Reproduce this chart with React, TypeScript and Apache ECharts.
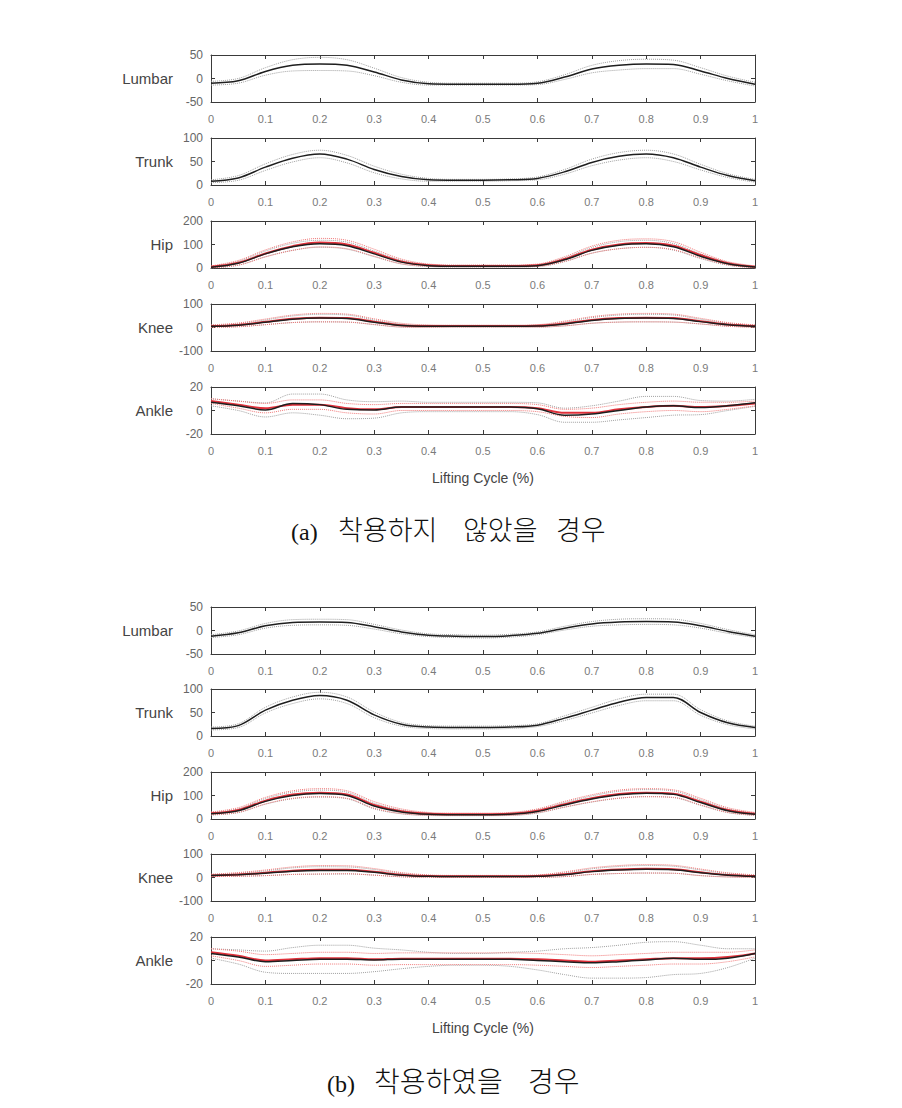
import React, { useEffect, useRef } from 'react';
import * as echarts from 'echarts';

// x samples (fraction of lifting cycle)
const XS = [0, 0.05, 0.1, 0.15, 0.2, 0.25, 0.3, 0.35, 0.4, 0.45, 0.5, 0.55, 0.6, 0.65, 0.7, 0.75, 0.8, 0.85, 0.9, 0.95, 1];
const X_TICKS = [0, 0.1, 0.2, 0.3, 0.4, 0.5, 0.6, 0.7, 0.8, 0.9, 1];
const JOINTS = ['Lumbar', 'Trunk', 'Hip', 'Knee', 'Ankle'];
const Y_MIN = [-50, 0, 0, -100, -20];
const Y_MAX = [50, 100, 200, 100, 20];
const Y_STEP = [50, 50, 100, 100, 20];
const X_TITLE = 'Lifting Cycle (%)';
const CAPTION_A = ['(a)', '착용하지', '않았을', '경우'];
const CAPTION_B = ['(b)', '착용하였을', '경우'];

// (a) without the device
const A_LUMBAR_MEAN = [-10, -5, 15, 28, 31, 28, 14, -3, -11, -12, -12, -12, -10, 3, 20, 28, 31, 30, 16, 0, -12];
const A_LUMBAR_SD = [4, 5, 8, 12, 14, 12, 8, 5, 3, 2, 2, 2, 3, 5, 8, 10, 10, 9, 7, 5, 4];
const A_TRUNK_MEAN = [8, 15, 38, 57, 66, 55, 33, 18, 11, 10, 10, 11, 14, 28, 48, 61, 66, 58, 38, 20, 9];
const A_TRUNK_SD = [3, 5, 7, 8, 8, 8, 7, 5, 3, 2, 2, 2, 3, 5, 7, 8, 8, 8, 6, 4, 3];
const A_HIP_MEAN = [3, 20, 60, 90, 103, 95, 60, 25, 10, 7, 7, 7, 10, 35, 75, 97, 103, 90, 50, 18, 4];
const A_HIP_SD = [3, 8, 12, 15, 15, 15, 12, 8, 4, 3, 3, 3, 4, 8, 12, 15, 15, 14, 10, 6, 3];
const A_HIP_RED = [5, 22, 62, 93, 108, 100, 65, 28, 12, 9, 9, 9, 12, 38, 78, 100, 106, 95, 55, 20, 5];
const A_HIP_RED_SD = [4, 10, 15, 18, 18, 18, 15, 10, 5, 4, 4, 4, 5, 10, 15, 18, 18, 17, 12, 7, 4];
const A_KNEE_MEAN = [5, 10, 22, 35, 40, 38, 22, 8, 5, 5, 5, 5, 6, 15, 30, 38, 40, 38, 25, 12, 5];
const A_KNEE_SD = [4, 6, 10, 14, 16, 15, 10, 6, 4, 3, 3, 3, 4, 8, 12, 15, 16, 15, 10, 6, 4];
const A_KNEE_RED = [6, 11, 24, 37, 42, 40, 25, 10, 6, 6, 6, 6, 7, 17, 32, 40, 42, 40, 27, 13, 6];
const A_KNEE_RED_SD = [5, 8, 12, 16, 18, 17, 12, 8, 5, 4, 4, 4, 5, 10, 14, 17, 18, 17, 12, 8, 5];
const A_ANKLE_MEAN = [7, 4, 0.5, 6, 5, 1, 0.5, 3, 3, 3, 3, 3, 1.5, -4, -3, 0, 3, 4, 2.5, 4, 6.5];
const A_ANKLE_SD = [3, 4, 6, 8, 9, 8, 7, 5, 4, 4, 4, 4, 5, 6, 7, 8, 9, 8, 6, 4, 3];
const A_ANKLE_RED = [8, 5, 2, 5, 5, 2, 1, 3, 3, 3, 3, 3, 2, -2, -2, 1, 3, 4, 3, 4, 6];
const A_ANKLE_RED_SD = [2, 3, 4, 4, 4, 4, 4, 3, 3, 3, 3, 3, 3, 3, 4, 4, 4, 4, 4, 3, 2];

// (b) with the device
const B_LUMBAR_MEAN = [-12, -5, 10, 17, 18, 17, 8, -3, -10, -12, -13, -11, -6, 5, 14, 18, 19, 18, 10, -2, -12];
const B_LUMBAR_SD = [3, 4, 5, 6, 6, 6, 5, 4, 3, 3, 3, 3, 3, 4, 5, 6, 6, 6, 5, 4, 3];
const B_TRUNK_MEAN = [16, 22, 55, 76, 86, 76, 45, 25, 19, 18, 18, 19, 23, 38, 55, 72, 82, 82, 50, 28, 18];
const B_TRUNK_SD = [3, 4, 6, 7, 7, 7, 6, 4, 3, 3, 3, 3, 3, 5, 6, 7, 7, 7, 6, 4, 3];
const B_HIP_MEAN = [22, 35, 75, 100, 108, 100, 55, 30, 20, 18, 18, 20, 32, 60, 85, 103, 110, 105, 70, 35, 20];
const B_HIP_SD = [5, 8, 12, 14, 15, 14, 12, 8, 5, 4, 4, 5, 7, 10, 13, 15, 15, 14, 12, 8, 5];
const B_HIP_RED = [24, 38, 78, 104, 112, 104, 60, 33, 22, 20, 20, 22, 35, 63, 88, 106, 112, 108, 74, 38, 22];
const B_HIP_RED_SD = [6, 10, 14, 16, 17, 16, 14, 10, 6, 5, 5, 6, 8, 12, 15, 17, 17, 16, 14, 10, 6];
const B_KNEE_MEAN = [8, 12, 18, 27, 30, 30, 22, 10, 5, 4, 4, 4, 5, 12, 25, 32, 35, 33, 20, 10, 5];
const B_KNEE_SD = [4, 6, 10, 14, 16, 15, 12, 7, 4, 3, 3, 3, 4, 8, 12, 15, 16, 15, 12, 7, 4];
const B_KNEE_RED = [9, 13, 20, 29, 33, 33, 24, 12, 6, 5, 5, 5, 6, 14, 27, 34, 37, 35, 22, 11, 6];
const B_KNEE_RED_SD = [5, 8, 12, 16, 18, 17, 14, 9, 5, 4, 4, 4, 5, 10, 14, 17, 18, 17, 14, 9, 5];
const B_ANKLE_MEAN = [6, 3, -1, 0, 1, 1, 0.5, 1, 1, 1, 1, 1, 0, -1, -2, -1, 0.5, 2, 1, 2, 6];
const B_ANKLE_SD = [4, 6, 9, 11, 12, 12, 10, 8, 6, 5, 5, 6, 8, 11, 13, 14, 15, 14, 12, 8, 4];
const B_ANKLE_RED = [7, 4, 0, 1, 2, 2, 1, 1.5, 1.5, 1.5, 1.5, 1.5, 1, 0, -1, 0, 1, 2, 2, 3, 6];
const B_ANKLE_RED_SD = [3, 4, 5, 5, 5, 5, 5, 5, 5, 5, 5, 5, 5, 5, 5, 5, 5, 5, 5, 4, 3];

type Panel = { mean: number[]; sd: number[]; red?: number[]; redSd?: number[] };

const FIG_A: Panel[] = [
  { mean: A_LUMBAR_MEAN, sd: A_LUMBAR_SD },
  { mean: A_TRUNK_MEAN, sd: A_TRUNK_SD },
  { mean: A_HIP_MEAN, sd: A_HIP_SD, red: A_HIP_RED, redSd: A_HIP_RED_SD },
  { mean: A_KNEE_MEAN, sd: A_KNEE_SD, red: A_KNEE_RED, redSd: A_KNEE_RED_SD },
  { mean: A_ANKLE_MEAN, sd: A_ANKLE_SD, red: A_ANKLE_RED, redSd: A_ANKLE_RED_SD },
];
const FIG_B: Panel[] = [
  { mean: B_LUMBAR_MEAN, sd: B_LUMBAR_SD },
  { mean: B_TRUNK_MEAN, sd: B_TRUNK_SD },
  { mean: B_HIP_MEAN, sd: B_HIP_SD, red: B_HIP_RED, redSd: B_HIP_RED_SD },
  { mean: B_KNEE_MEAN, sd: B_KNEE_SD, red: B_KNEE_RED, redSd: B_KNEE_RED_SD },
  { mean: B_ANKLE_MEAN, sd: B_ANKLE_SD, red: B_ANKLE_RED, redSd: B_ANKLE_RED_SD },
];

// layout (page px, converted by -8 body margin)
const TOPS_A = [55, 138, 221, 304, 387];
const TOPS_B = [607, 689, 772, 854, 937];
const PANEL_H = 47;

const FONT = "'Liberation Sans', Arial, sans-serif";
const AXIS_COLOR = '#3a3a3a';

function pts(ys: number[]): number[][] {
  return XS.map((x, i) => [x, ys[i]]);
}
function add(a: number[], b: number[], s: number): number[] {
  return a.map((v, i) => v + s * b[i]);
}

export default function App() {
  const ref = useRef<HTMLDivElement>(null);
  useEffect(() => {
    if (!ref.current) return;
    const chart = echarts.init(ref.current, undefined, { renderer: 'svg' });
    const grid: any[] = [];
    const xAxis: any[] = [];
    const yAxis: any[] = [];
    const series: any[] = [];

    const panels: { p: Panel; top: number; j: number }[] = [];
    FIG_A.forEach((p, j) => panels.push({ p, top: TOPS_A[j], j }));
    FIG_B.forEach((p, j) => panels.push({ p, top: TOPS_B[j], j }));

    const lineCommon = { show: true, onZero: false, lineStyle: { color: AXIS_COLOR, width: 1 } };
    const tickCommon = { show: true, inside: true, length: 4, lineStyle: { color: AXIS_COLOR, width: 1 } };

    panels.forEach(({ p, top, j }, i) => {
      grid.push({ left: 203, width: 544, top: top - 8, height: PANEL_H, show: false });
      const xBase = {
        gridIndex: i, type: 'value', min: X_TICKS[0], max: X_TICKS[X_TICKS.length - 1], interval: 0.1,
        splitLine: { show: false }, axisLine: lineCommon, axisTick: tickCommon,
      };
      xAxis.push({
        ...xBase, position: 'bottom',
        axisLabel: {
          show: true, margin: 11, fontSize: 11, color: '#7a7a7a', fontFamily: FONT,
          showMinLabel: true, showMaxLabel: true,
          formatter: (v: number) => String(Math.round(v * 10) / 10),
        },
        name: j === 4 ? X_TITLE : '',
        nameLocation: 'middle', nameGap: 37,
        nameTextStyle: { fontSize: 14, color: '#444', fontFamily: FONT },
      });
      xAxis.push({ ...xBase, position: 'top', axisLabel: { show: false } });
      const yBase = {
        gridIndex: i, type: 'value', min: Y_MIN[j], max: Y_MAX[j], interval: Y_STEP[j],
        splitLine: { show: false }, axisLine: lineCommon, axisTick: tickCommon,
      };
      yAxis.push({
        ...yBase, position: 'left',
        axisLabel: {
          show: true, margin: 8, fontSize: 12, color: '#666', fontFamily: FONT,
          showMinLabel: true, showMaxLabel: true,
        },
        name: JOINTS[j], nameLocation: 'middle', nameRotate: 0, nameGap: 38,
        nameTextStyle: { fontSize: 15, color: '#444', fontFamily: FONT },
      });
      yAxis.push({ ...yBase, position: 'right', axisLabel: { show: false } });

      const xi = 2 * i;
      const yi = 2 * i;
      const mk = (data: number[][], color: string, width: number, type: string, z: number) => ({
        type: 'line', xAxisIndex: xi, yAxisIndex: yi, data, showSymbol: false, symbol: 'none',
        smooth: 0.35, silent: true, z,
        lineStyle: { color, width, type },
      });
      series.push(mk(pts(add(p.mean, p.sd, 1)), '#a0a0a0', 1, 'dotted', 2));
      series.push(mk(pts(add(p.mean, p.sd, -1)), '#a0a0a0', 1, 'dotted', 2));
      if (p.red && p.redSd) {
        series.push(mk(pts(add(p.red, p.redSd, 1)), '#f07878', 1, 'dotted', 3));
        series.push(mk(pts(add(p.red, p.redSd, -1)), '#f07878', 1, 'dotted', 3));
        series.push(mk(pts(p.red), '#e0303a', 2, 'solid', 4));
      }
      series.push(mk(pts(p.mean), '#1e1e1e', 1.5, 'solid', 5));
    });

    const capFont = "'Liberation Serif', serif";
    const korFont = "'Noto Sans CJK KR', sans-serif";
    const capText = (text: string, x: number, y: number, korean: boolean, size: number) => ({
      type: 'text', left: x - 8, top: y - 8,
      style: {
        text, fontSize: size, fill: '#111',
        fontFamily: korean ? korFont : capFont, fontWeight: korean ? 300 : 'normal',
      },
    });
    const graphic = [
      capText(CAPTION_A[0], 291, 520, false, 24),
      capText(CAPTION_A[1], 338, 515, true, 27),
      capText(CAPTION_A[2], 463, 515, true, 27),
      capText(CAPTION_A[3], 556, 515, true, 27),
      capText(CAPTION_B[0], 327, 1072, false, 24),
      capText(CAPTION_B[1], 374, 1066, true, 28),
      capText(CAPTION_B[2], 528, 1066, true, 28),
    ];

    chart.setOption({
      animation: false,
      backgroundColor: '#ffffff',
      grid, xAxis, yAxis, series, graphic,
    });
    return () => chart.dispose();
  }, []);
  return <div ref={ref} style={{ width: 886, height: 1092 }} />;
}
